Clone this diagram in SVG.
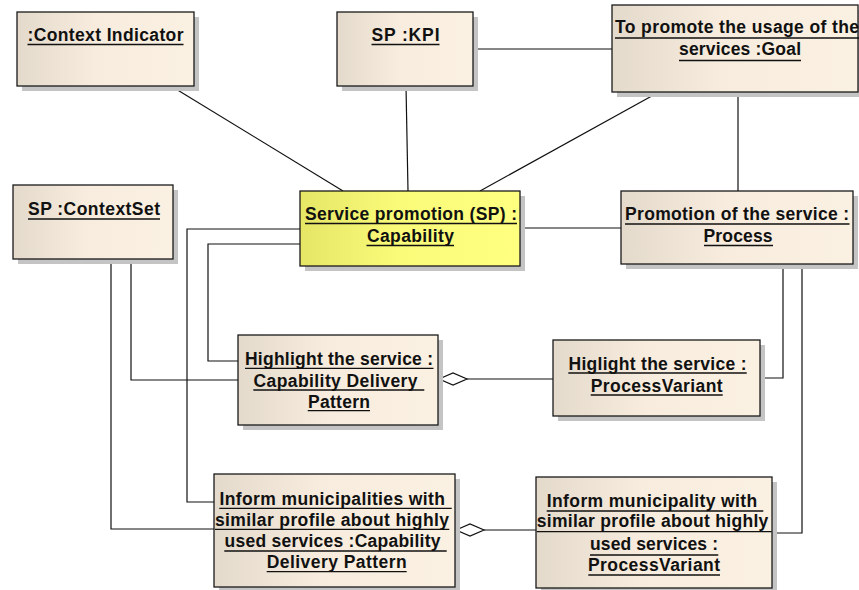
<svg xmlns="http://www.w3.org/2000/svg" width="859" height="590" viewBox="0 0 859 590">
  <style>
    .box { stroke: #1a1a1a; stroke-width: 1.3; }
    .beige { fill: url(#gBeige); }
    .yellow { fill: url(#gYellow); }
    .shadow { fill: #c4c4c4; }
    .lbl { font-family: "Liberation Sans", Arial, sans-serif; font-weight: bold; font-size: 17.5px; fill: #111; }
    .m { text-anchor: middle; }
    .s { text-anchor: start; }
    .ul { stroke: #111; stroke-width: 1.3; }
    .conn { fill: none; stroke: #111; stroke-width: 1.2; }
    .dia { fill: #fff; stroke: #111; stroke-width: 1.2; }
  </style>
  <defs>
    <linearGradient id="gBeige" x1="0" y1="0" x2="1" y2="0">
      <stop offset="0" stop-color="#e4dacb"/>
      <stop offset="0.45" stop-color="#f7ecdd"/>
      <stop offset="1" stop-color="#fbf1e3"/>
    </linearGradient>
    <linearGradient id="gYellow" x1="0" y1="0" x2="1" y2="0">
      <stop offset="0" stop-color="#e6e666"/>
      <stop offset="0.45" stop-color="#fbfb7a"/>
      <stop offset="1" stop-color="#ffff80"/>
    </linearGradient>
  </defs>

  <g id="connectors">
    <line class="conn" x1="171" y1="86" x2="343" y2="191"/>
    <line class="conn" x1="406" y1="86" x2="408" y2="191"/>
    <line class="conn" x1="473" y1="49" x2="612" y2="49"/>
    <line class="conn" x1="659" y1="92" x2="480" y2="191"/>
    <line class="conn" x1="738" y1="92" x2="738" y2="191"/>
    <line class="conn" x1="520" y1="228" x2="621" y2="228"/>
    <polyline class="conn" points="300,244 208,244 208,361 238,361"/>
    <polyline class="conn" points="300,229 187,229 187,502 214,502"/>
    <polyline class="conn" points="131,259 131,380 238,380"/>
    <polyline class="conn" points="111,259 111,529 214,529"/>
    <line class="conn" x1="467" y1="379" x2="553" y2="379"/>
    <polygon class="dia" points="439,379 453,373 467,379 453,385"/>
    <polyline class="conn" points="783,264 783,378 760,378"/>
    <polyline class="conn" points="802,264 802,533 772,533"/>
    <line class="conn" x1="484" y1="530" x2="536" y2="530"/>
    <polygon class="dia" points="456,530 470,524 484,530 470,536"/>
  </g>

  <g id="contextIndicator">
    <rect class="shadow" x="22" y="17" width="177" height="74"/>
    <rect class="box beige" x="17" y="12" width="177" height="74"/>
    <text class="lbl m" x="105.5" y="41" textLength="156" lengthAdjust="spacing">:Context Indicator</text>
    <line class="ul" x1="27.5" y1="44.5" x2="183.5" y2="44.5"/>
  </g>

  <g id="kpi">
    <rect class="shadow" x="342" y="17" width="136" height="74"/>
    <rect class="box beige" x="337" y="12" width="136" height="74"/>
    <text class="lbl m" x="405.5" y="41" textLength="68" lengthAdjust="spacing">SP :KPI</text>
    <line class="ul" x1="371.5" y1="44.5" x2="439.5" y2="44.5"/>
  </g>

  <g id="goal">
    <rect class="shadow" x="617" y="10" width="246" height="87"/>
    <rect class="box beige" x="612" y="5" width="246" height="87"/>
    <text class="lbl m" x="737" y="33" textLength="244" lengthAdjust="spacing">To promote the usage of the</text>
    <line class="ul" x1="615" y1="38" x2="859" y2="38"/>
    <text class="lbl m" x="740" y="55" textLength="122" lengthAdjust="spacing">services :Goal</text>
    <line class="ul" x1="679" y1="60.5" x2="801" y2="60.5"/>
  </g>

  <g id="contextSet">
    <rect class="shadow" x="18" y="190" width="160" height="74"/>
    <rect class="box beige" x="13" y="185" width="160" height="74"/>
    <text class="lbl m" x="94" y="215" textLength="132" lengthAdjust="spacing">SP :ContextSet</text>
    <line class="ul" x1="28" y1="219" x2="160" y2="219"/>
  </g>

  <g id="capability">
    <rect class="shadow" x="305" y="196" width="220" height="75"/>
    <rect class="box yellow" x="300" y="191" width="220" height="75"/>
    <text class="lbl m" x="411" y="220" textLength="212" lengthAdjust="spacing">Service promotion (SP) :</text>
    <line class="ul" x1="305" y1="223.5" x2="517" y2="223.5"/>
    <text class="lbl m" x="410.5" y="241.5" textLength="87" lengthAdjust="spacing">Capability</text>
    <line class="ul" x1="366.5" y1="245.5" x2="454" y2="245.5"/>
  </g>

  <g id="process">
    <rect class="shadow" x="626" y="196" width="232" height="73"/>
    <rect class="box beige" x="621" y="191" width="232" height="73"/>
    <text class="lbl m" x="737" y="220" textLength="224" lengthAdjust="spacing">Promotion of the service :</text>
    <line class="ul" x1="625" y1="224" x2="849.5" y2="224"/>
    <text class="lbl m" x="738" y="241.5" textLength="69" lengthAdjust="spacing">Process</text>
    <line class="ul" x1="704" y1="245.5" x2="773" y2="245.5"/>
  </g>

  <g id="highlightCDP">
    <rect class="shadow" x="243" y="340" width="200" height="90"/>
    <rect class="box beige" x="238" y="335" width="200" height="90"/>
    <text class="lbl m" x="339" y="364.5" textLength="188" lengthAdjust="spacing">Highlight the service :</text>
    <line class="ul" x1="245" y1="368.3" x2="433.5" y2="368.3"/>
    <text class="lbl s" x="253.5" y="386.5" textLength="164" lengthAdjust="spacing">Capability Delivery</text>
    <line class="ul" x1="253.3" y1="390" x2="424.3" y2="390"/>
    <text class="lbl m" x="339" y="407.5" textLength="62" lengthAdjust="spacing">Pattern</text>
    <line class="ul" x1="307.7" y1="410.7" x2="370" y2="410.7"/>
  </g>

  <g id="highlightPV">
    <rect class="shadow" x="558" y="345" width="207" height="76"/>
    <rect class="box beige" x="553" y="340" width="207" height="76"/>
    <text class="lbl m" x="657.5" y="370" textLength="178" lengthAdjust="spacing">Higlight the service :</text>
    <line class="ul" x1="568.3" y1="373" x2="746.7" y2="373"/>
    <text class="lbl m" x="656.7" y="391.5" textLength="132" lengthAdjust="spacing">ProcessVariant</text>
    <line class="ul" x1="590.7" y1="395" x2="722.7" y2="395"/>
  </g>

  <g id="informCDP">
    <rect class="shadow" x="219" y="479" width="241" height="113"/>
    <rect class="box beige" x="214" y="474" width="241" height="113"/>
    <text class="lbl s" x="219.5" y="505" textLength="225.5" lengthAdjust="spacing">Inform municipalities with</text>
    <line class="ul" x1="219.3" y1="508.3" x2="451.7" y2="508.3"/>
    <text class="lbl s" x="215" y="526" textLength="234" lengthAdjust="spacing">similar profile about highly</text>
    <line class="ul" x1="215" y1="529.3" x2="449.3" y2="529.3"/>
    <text class="lbl s" x="224.5" y="546.7" textLength="216" lengthAdjust="spacing">used services :Capability</text>
    <line class="ul" x1="224.3" y1="551" x2="446.7" y2="551"/>
    <text class="lbl m" x="336.7" y="567.7" textLength="140" lengthAdjust="spacing">Delivery Pattern</text>
    <line class="ul" x1="266.7" y1="571.7" x2="406.7" y2="571.7"/>
  </g>

  <g id="informPV">
    <rect class="shadow" x="541" y="482" width="236" height="111"/>
    <rect class="box beige" x="536" y="477" width="236" height="111"/>
    <text class="lbl s" x="546.7" y="506.7" textLength="210.6" lengthAdjust="spacing">Inform municipality with</text>
    <line class="ul" x1="546.7" y1="511" x2="763.3" y2="511"/>
    <text class="lbl s" x="536.7" y="527.3" textLength="231.6" lengthAdjust="spacing">similar profile about highly</text>
    <line class="ul" x1="536.7" y1="531.7" x2="771.7" y2="531.7"/>
    <text class="lbl m" x="654" y="550" textLength="128" lengthAdjust="spacing">used services :</text>
    <line class="ul" x1="590" y1="555" x2="718.3" y2="555"/>
    <text class="lbl m" x="654" y="570.7" textLength="132" lengthAdjust="spacing">ProcessVariant</text>
    <line class="ul" x1="588.3" y1="575" x2="720" y2="575"/>
  </g>
</svg>
